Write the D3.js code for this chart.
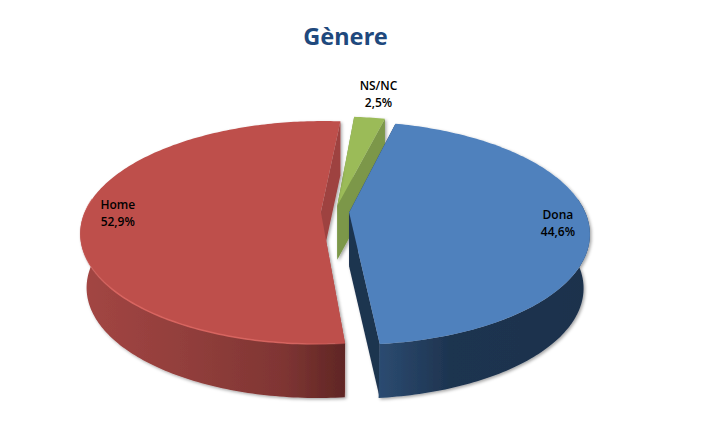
<!DOCTYPE html>
<meta charset="utf-8">
<style>
  html, body { margin: 0; background: #fff; }
</style>
<script src="https://d3js.org/d3.v7.min.js"></script>
<div id="my_dataviz"></div>
<script>

// data
var categories = ["Dona", "Home", "NS/NC"];
var values = [44.6, 52.9, 2.5];
var valueLabels = ["44,6%", "52,9%", "2,5%"];

var width = 710, height = 448;

// look of the tilted pie
var cx = 335, cy = 212;      // vanishing centre
var rx = 236, ry = 107.7;    // disc radii before perspective
var persp = 0.184;           // how much nearer parts grow
var depth = 54;              // wall height
var shrink = 0.025;          // the lower disc is a little narrower
var explode = 0.06;
var labelRadius = [0.875, 0.86, 1.34];
var labelShift = [3, 1, 1];

var topColor = ["#4f81bd", "#be4f4c", "#9bbb59"];
var cutColor = ["#1e3450", "#9e4341", "#7b9748"];

var svg = d3.select("#my_dataviz").append("svg")
  .attr("width", width).attr("height", height)
  .style("display", "block");

var defs = svg.append("defs");
var f = defs.append("filter").attr("id", "shadow")
  .attr("x", "-10%").attr("y", "-10%").attr("width", "120%").attr("height", "120%");
f.append("feDropShadow").attr("dx", 1.5).attr("dy", 1.5).attr("stdDeviation", 1.5)
  .attr("flood-color", "#000").attr("flood-opacity", 0.35);

function xGradient(id, stops) {
  var g = defs.append("linearGradient").attr("id", id)
    .attr("gradientUnits", "userSpaceOnUse")
    .attr("x1", 75).attr("x2", 595).attr("y1", 0).attr("y2", 0);
  stops.forEach(function(s) {
    g.append("stop").attr("offset", s[0]).attr("stop-color", s[1])
      .attr("stop-opacity", s[2] === undefined ? 1 : s[2]);
  });
}
xGradient("wall0", [[0.58, "#2c4c72"], [0.72, "#1e3450"], [1, "#1e324c"]]);
xGradient("wall1", [[0, "#a44644"], [0.2, "#933f3c"], [0.4, "#7f3533"], [0.52, "#5f2624"]]);
xGradient("wall2", [[0, "#7b9748"], [1, "#7b9748"]]);
xGradient("edge1", [[0, "#d96560", 0], [0.08, "#d96560", 1], [0.42, "#d96560", 0.9], [0.52, "#d96560", 0.2]]);

var pie = d3.pie().sort(null)
  .startAngle(14 * Math.PI / 180)
  .endAngle((14 + 360) * Math.PI / 180);
var arcs = pie(values);

// pie plane -> screen, u goes right and v comes towards the viewer
function project(u, v, drop) {
  var s = 1 / (1 - persp * v);
  var narrow = drop ? 1 - shrink : 1;
  return [cx + rx * u * s * narrow, cy + ry * v * s + (drop || 0)];
}

function offsetOf(d) {
  var mid = (d.startAngle + d.endAngle) / 2;
  return [explode * Math.sin(mid), -explode * Math.cos(mid)];
}

function rimPoint(d, a, drop, k) {
  var o = offsetOf(d);
  var r = k === undefined ? 1 : k;
  return project(o[0] + r * Math.sin(a), o[1] - r * Math.cos(a), drop);
}

function rimPoints(d, a0, a1, drop) {
  var n = Math.max(2, Math.ceil(Math.abs(a1 - a0) * 60));
  return d3.range(n + 1).map(function(i) {
    return rimPoint(d, a0 + (a1 - a0) * i / n, drop);
  });
}

var line = d3.line();

// front part of a slice's rim, that is where its outer wall can be seen
function frontRange(d) {
  var lo = Math.PI * 0.46, hi = Math.PI * 1.54;
  var a0 = Math.max(d.startAngle, lo), a1 = Math.min(d.endAngle, hi);
  return a1 > a0 ? [a0, a1] : null;
}

// far slices first so the blue one lies over the green wall
var order = [2, 1, 0];

order.forEach(function(i) {
  var d = arcs[i];
  var g = svg.append("g").attr("filter", "url(#shadow)");
  var apexTop = project(offsetOf(d)[0], offsetOf(d)[1], 0);
  var apexLow = [apexTop[0], apexTop[1] + depth];

  // the two cut faces
  [d.startAngle, d.endAngle].forEach(function(a) {
    var rimTop = rimPoint(d, a, 0);
    g.append("path")
      .attr("d", line([apexTop, rimTop, [rimTop[0], rimTop[1] + depth], apexLow]) + "Z")
      .attr("fill", cutColor[i]);
  });

  // outer wall
  var range = frontRange(d);
  if (range) {
    var upper = rimPoints(d, range[0], range[1], 0);
    var lower = rimPoints(d, range[0], range[1], depth).reverse();
    g.append("path")
      .attr("d", line(upper.concat(lower)) + "Z")
      .attr("fill", "url(#wall" + i + ")");
  }

  // top face
  var rim = rimPoints(d, d.startAngle, d.endAngle, 0);
  g.append("path")
    .attr("d", line([apexTop].concat(rim)) + "Z")
    .attr("fill", topColor[i]);

  // only the red slice has a visible light edge
  if (range && i === 1) {
    svg.append("path")
      .attr("d", line(rimPoints(d, range[0], range[1], 0)))
      .attr("fill", "none")
      .attr("stroke", "url(#edge1)")
      .attr("stroke-width", 1.5);
  }
});

// title
svg.append("text")
  .attr("x", 345.5).attr("y", 45)
  .attr("text-anchor", "middle")
  .attr("font-family", "'Noto Sans', sans-serif")
  .attr("font-weight", "bold")
  .attr("font-size", 23.5)
  .attr("fill", "#1f497d")
  .text("Gènere");

// labels, category over value
arcs.forEach(function(d, i) {
  var mid = (d.startAngle + d.endAngle) / 2;
  var p = rimPoint(d, mid, 0, labelRadius[i]);
  var t = svg.append("text")
    .attr("text-anchor", "middle")
    .attr("font-family", "'Open Sans', sans-serif")
    .attr("font-weight", 600)
    .attr("font-size", 12)
    .attr("fill", "#000");
  t.append("tspan").attr("x", p[0]).attr("y", p[1] - 4 + labelShift[i]).text(categories[i]);
  t.append("tspan").attr("x", p[0]).attr("y", p[1] + 13 + labelShift[i]).text(valueLabels[i]);
});

</script>
